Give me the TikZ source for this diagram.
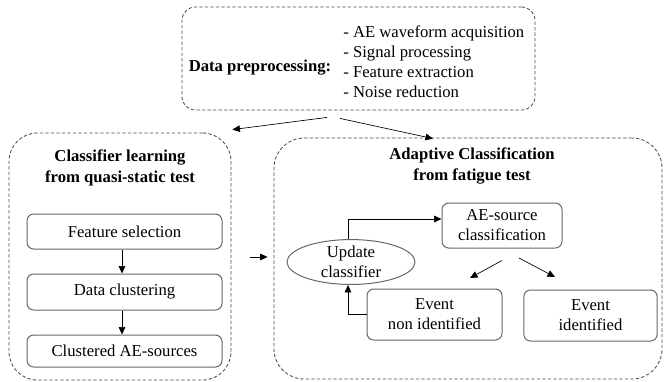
\documentclass[tikz,border=0pt]{standalone}
\usepackage{fontspec}
\setmainfont{Liberation Serif}
\newfontfamily\diagfont{Liberation Serif}
\usetikzlibrary{positioning}
\usetikzlibrary{shapes.geometric}
\usetikzlibrary{arrows.meta}

\tikzset{
  group/.style={draw=black!70, line width=0.5pt, dash pattern=on 2pt off 1.3pt, inner sep=0pt},
  stage/.style={draw=black!60, line width=0.6pt, rounded corners=4pt, align=center, inner sep=0pt},
  title/.style={font=\diagfont\bfseries\fontsize{10}{12.6}\selectfont, align=center},
}

\begin{document}
\begin{tikzpicture}[x=0.6pt, y=-0.6pt, >={Triangle[length=4.5pt,width=4pt]},
    font=\diagfont\fontsize{10}{12}\selectfont]
            \useasboundingbox (0,0) rectangle (665,381);

            % Dashed groups
            \node[group, rounded corners=8pt, minimum width=211.8pt, minimum height=61.8pt] (prep) at (358.5,58.5) {};
            \node[group, rounded corners=17pt, minimum width=133.2pt, minimum height=148.2pt] (learn) at (120,256.5) {};
            \node[group, rounded corners=18pt, minimum width=232.8pt, minimum height=144.6pt] (adapt) at (468,258.5) {};

            % Preprocessing
            \node[font=\diagfont\bfseries\fontsize{10}{12}\selectfont] (preptitle) at (260,68) {Data preprocessing:};
            \node[anchor=west, align=left, inner sep=0pt] (steps) at (343,62)
                {- AE waveform acquisition\\- Signal processing\\- Feature extraction\\- Noise reduction};

            % Classifier learning
            \node[title] (learntitle) at (120,167.5) {Classifier learning\\from quasi-static test};
            \node[stage, minimum width=117pt, minimum height=21pt] (feat) at (124.5,231.5) {Feature selection};
            \node[stage, minimum width=117pt, minimum height=21.6pt] (clust) at (124.5,292) {Data clustering};
            \node[stage, minimum width=117pt, minimum height=19.2pt] (sources) at (124.5,351) {Clustered AE-sources};

            % Adaptive classification
            \node[title] (adapttitle) at (472,166) {Adaptive Classification\\from fatigue test};
            \node[stage, minimum width=72pt, minimum height=27pt] (classif) at (502,225.5) {AE-source\\classification};
            \node[ellipse, draw=black!60, line width=0.6pt, inner sep=0pt, minimum width=76.8pt, minimum height=24pt, align=center] (update) at (351,262) {Update\\classifier};
            \node[stage, minimum width=81pt, minimum height=30.6pt] (nonid) at (434.5,314.5) {Event\\non identified};
            \node[stage, minimum width=80pt, minimum height=30.6pt] (ident) at (590.5,315.5) {Event\\identified};

            % Arrows between groups
            \draw[->] ([shift={(-31.5,7)}]prep.south) -- ([shift={(1,-3)}]learn.north east);
            \draw[->] ([shift={(-18.5,8)}]prep.south) -- ([shift={(-35,1)}]adapt.north);
            \draw[->] ([shift={(19,0.5)}]learn.east) -- ([shift={(-6,-1.5)}]adapt.west);

            % Learning chain
            \draw[->] (feat.south -| 122,0) -- (clust.north -| 122,0);
            \draw[->] (clust.south -| 122,0) -- (sources.north -| 122,0);

            % Classification loop
            \draw[->] (update.north -| 348,0) |- (classif.west |- 0,219);
            \draw[->] (nonid.west) -| (update.south -| 348,0);
            \draw[->] ([shift={(0,12)}]classif.south) -- ([shift={(35.5,-10.5)}]nonid.north);
            \draw[->] ([shift={(17,9.5)}]classif.south) -- ([shift={(-35.5,-12.5)}]ident.north);
        \end{tikzpicture}
\end{document}
